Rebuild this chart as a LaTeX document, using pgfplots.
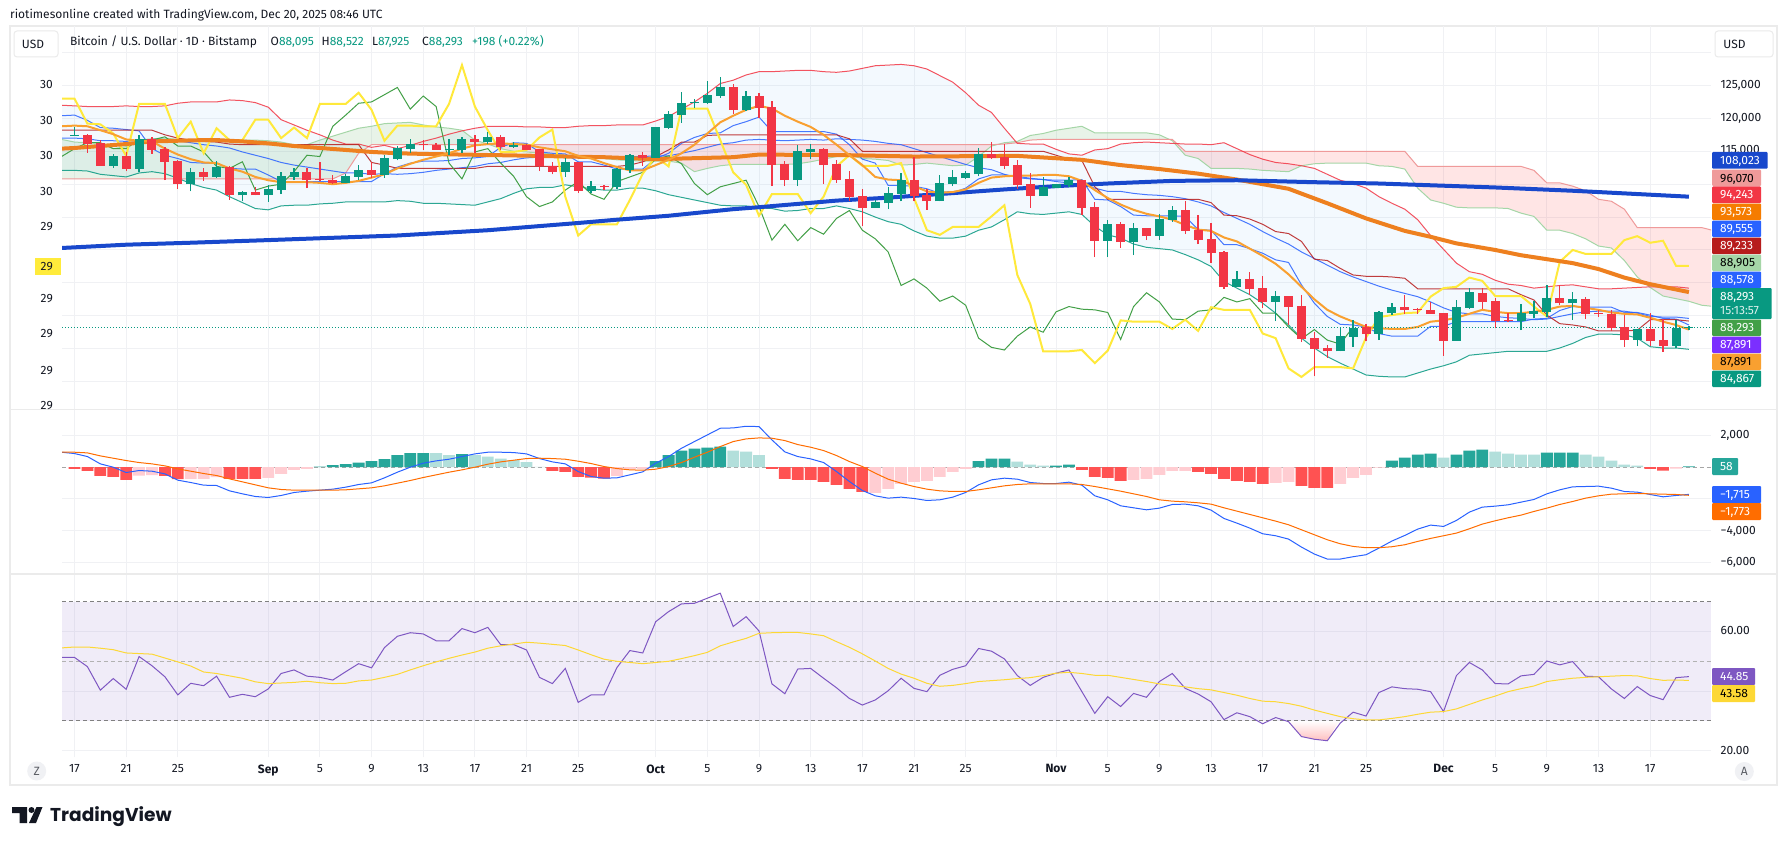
\documentclass[border=0pt]{standalone}
\usepackage{fontspec}
\usepackage{pgfplots}
\usepackage{pgfplotstable}
\pgfplotsset{compat=1.18}
\setmainfont{Fira Sans}
\newfontfamily\logofont{Poppins}

\definecolor{up}{HTML}{089981}
\definecolor{down}{HTML}{F23645}
\definecolor{gridc}{HTML}{F0F1F4}
\definecolor{framec}{HTML}{EBEBEB}
\definecolor{inkc}{HTML}{131722}
\definecolor{tenkan}{HTML}{2962FF}
\definecolor{kijun}{HTML}{B71C1C}
\definecolor{chikou}{HTML}{43A047}
\definecolor{yell}{HTML}{FFE93B}
\definecolor{ema}{HTML}{F9A030}
\definecolor{spana}{HTML}{A5D6A7}
\definecolor{spanb}{HTML}{EF9A9A}
\definecolor{sfifty}{HTML}{EE801F}
\definecolor{stwo}{HTML}{1848CC}
\definecolor{barup}{HTML}{26A69A}
\definecolor{barupl}{HTML}{B2DFDB}
\definecolor{bardn}{HTML}{FF5252}
\definecolor{bardnl}{HTML}{FFCDD2}
\definecolor{rsiline}{HTML}{7E57C2}
\definecolor{rsima}{HTML}{FDD835}
\definecolor{hlc}{HTML}{FFEB3B}
\definecolor{bandc}{HTML}{2196F3}
\definecolor{purp}{HTML}{7B2FFF}
\definecolor{sigc}{HTML}{FF6D00}
\definecolor{sfl}{HTML}{F57C00}

% prices in thousands of USD, x = days since Aug 17
\pgfplotstableread{
i Yl Ch U Lo Ba Te Ki Em A B
-1 123.0 114.2 122.0 112.1 117.0 120.4 118.2 118.8 116.8 110.8
0 123.0 115.4 121.9 112.1 117.0 120.5 118.2 118.9 116.4 110.8
1 119.2 116.3 121.8 112.0 116.9 119.7 118.2 118.8 116.3 110.8
2 119.1 116.3 121.8 111.5 116.6 118.6 118.2 118.2 116.2 110.8
3 117.7 115.4 121.8 111.3 116.6 118.5 118.2 117.6 115.4 110.8
4 114.3 115.4 121.9 111.1 116.5 118.3 118.2 116.8 115.7 110.8
5 122.2 116.8 121.8 111.7 116.7 118.1 118.2 116.6 116.7 110.8
6 122.2 116.7 121.8 111.9 116.8 115.4 118.2 116.5 116.9 110.8
7 122.2 117.2 121.9 111.6 116.8 114.4 117.5 115.4 117.0 110.8
8 117.0 115.8 122.3 110.9 116.6 113.9 117.0 114.5 116.8 110.8
9 119.5 115.8 122.5 110.1 116.3 113.3 116.7 113.8 116.7 110.8
10 114.7 114.9 122.5 109.5 116.0 113.2 116.5 113.3 116.7 110.8
11 118.5 112.7 122.5 109.1 115.8 113.2 116.4 113.2 116.7 110.8
12 116.7 112.4 122.8 108.1 115.5 112.4 116.1 112.4 116.7 110.8
13 116.7 113.4 122.7 107.2 114.9 112.3 116.0 111.9 116.7 110.8
14 119.8 109.1 122.4 106.3 114.4 112.3 116.0 111.1 116.7 110.8
15 119.8 109.7 121.7 106.1 113.9 111.4 116.0 110.6 116.6 110.8
16 117.0 110.0 119.8 106.7 113.3 110.4 116.0 110.3 116.4 110.8
17 118.6 111.9 119.0 106.8 112.9 110.4 116.0 110.3 116.0 110.8
18 117.0 114.4 118.2 106.8 112.6 110.4 116.0 110.3 116.0 110.8
19 122.2 114.2 117.5 107.0 112.3 110.4 116.0 110.2 116.7 110.8
20 122.2 118.8 116.7 107.1 112.0 110.4 116.0 110.0 117.3 110.8
21 122.2 120.5 116.1 107.3 111.7 110.4 116.0 110.2 117.9 111.7
22 123.9 122.3 116.1 107.3 111.7 110.4 116.0 110.5 118.5 114.7
23 121.3 122.5 115.6 107.3 111.5 110.4 113.3 111.0 118.8 116.0
24 116.6 123.6 115.9 107.3 111.6 111.6 112.9 111.5 119.2 116.0
25 118.9 124.7 115.4 107.5 111.5 112.6 112.4 112.4 119.3 116.0
26 118.9 121.4 115.9 107.4 111.6 113.2 112.4 113.1 119.4 116.0
27 118.8 123.4 116.5 107.1 111.8 113.5 112.4 113.7 119.0 116.0
28 118.8 121.8 117.0 107.1 112.1 113.5 112.4 114.2 118.7 116.0
29 122.2 113.2 117.6 107.0 112.3 113.6 112.4 114.7 118.5 116.0
30 128.1 110.8 118.1 106.9 112.5 113.9 112.4 115.4 118.2 116.0
31 121.8 114.9 118.5 106.8 112.7 114.0 112.4 115.9 116.7 116.0
32 118.2 115.4 118.8 107.3 113.1 114.2 112.7 116.1 116.1 116.0
33 114.9 113.2 118.8 107.8 113.3 115.6 112.7 116.2 115.4 116.0
34 114.9 111.2 118.8 108.6 113.7 116.3 112.7 116.1 115.0 116.0
35 115.2 108.1 118.7 109.3 114.0 116.2 112.7 116.0 114.9 116.0
36 117.1 106.6 118.7 109.5 114.1 114.9 112.7 115.6 114.7 116.0
37 118.3 107.3 118.6 109.5 114.1 114.7 112.7 115.3 114.6 116.0
38 108.1 109.1 118.6 109.9 114.3 114.6 112.7 115.0 114.4 116.0
39 102.2 110.4 118.8 109.6 114.2 113.4 112.7 114.3 114.3 116.0
40 103.9 108.5 118.9 109.3 114.1 113.4 112.7 113.9 114.1 116.0
41 103.9 107.7 118.9 109.1 114.0 112.9 112.7 113.2 113.9 116.0
42 103.9 110.4 119.0 109.1 114.1 112.3 112.7 112.6 113.7 116.0
43 107.6 111.1 119.0 109.4 114.2 112.3 112.9 112.1 113.6 116.0
44 111.6 111.8 119.0 109.4 114.2 112.3 113.4 112.1 113.5 116.0
45 114.2 113.8 119.6 109.0 114.3 113.9 114.2 112.9 113.5 116.0
46 112.7 114.3 120.3 108.4 114.3 114.7 115.2 113.7 113.5 116.0
47 121.5 113.1 121.4 108.0 114.7 116.2 116.4 114.7 113.2 116.0
48 121.5 110.1 122.5 107.6 115.1 117.1 116.4 116.0 111.9 116.0
49 121.5 108.4 123.8 107.2 115.6 117.7 117.4 117.7 112.4 116.0
50 116.7 109.6 125.3 106.8 116.1 117.8 117.5 119.4 112.8 116.0
51 111.8 110.1 125.8 106.7 116.3 118.9 117.5 120.4 113.0 116.0
52 109.9 110.6 126.6 106.7 116.7 119.5 117.5 121.3 113.0 116.0
53 105.2 106.6 127.1 106.4 116.8 120.2 117.5 121.9 113.0 116.0
54 108.5 101.5 127.1 106.3 116.7 118.0 117.5 121.5 113.0 116.0
55 108.5 103.9 127.2 105.9 116.6 118.0 117.5 120.4 113.0 116.0
56 108.5 101.4 127.3 106.0 116.7 118.0 117.5 119.5 113.1 116.0
57 105.6 103.4 127.3 106.3 116.8 118.0 117.5 118.7 113.4 116.0
58 108.1 102.4 127.1 106.3 116.7 118.0 117.5 117.5 113.8 116.0
59 112.7 104.8 127.0 106.7 116.9 117.6 117.5 116.0 114.2 116.0
60 114.4 106.0 127.2 106.3 116.8 116.0 116.9 114.4 114.4 116.0
61 112.8 103.0 127.6 105.8 116.7 113.8 115.0 112.9 113.9 116.0
62 112.8 101.7 128.0 105.0 116.5 113.2 115.0 111.1 113.8 116.0
63 112.8 99.7 128.1 104.3 116.2 109.8 115.0 110.7 113.6 116.0
64 113.2 94.6 128.2 103.9 116.0 109.8 115.0 110.6 112.9 116.0
65 107.9 95.6 128.0 102.9 115.4 109.7 115.0 109.7 113.0 116.0
66 103.0 94.2 127.5 102.1 114.8 109.3 115.0 108.9 113.2 116.0
67 102.3 92.2 126.5 101.8 114.2 108.6 115.0 108.7 113.0 116.0
68 103.5 93.0 125.5 101.8 113.6 108.7 115.0 108.8 112.8 116.0
69 103.5 91.6 123.9 102.1 113.0 109.4 115.0 109.2 112.9 116.0
70 103.5 86.6 122.0 103.0 112.5 110.8 115.0 110.2 114.2 116.0
71 105.1 85.2 120.9 103.5 112.2 111.4 115.0 111.0 115.8 116.0
72 106.8 84.8 118.5 104.6 111.5 111.4 115.0 111.2 116.3 116.1
73 96.2 86.9 116.2 105.8 111.0 111.2 115.0 111.3 116.5 116.3
74 91.8 88.3 116.1 105.5 110.8 110.9 115.0 111.3 117.4 116.7
75 84.6 87.5 116.1 105.4 110.7 110.7 115.0 111.4 117.7 116.8
76 84.6 90.6 115.3 105.6 110.4 110.6 114.4 111.4 118.2 116.8
77 84.6 91.4 114.6 105.8 110.2 110.6 113.8 111.2 118.5 116.8
78 84.8 91.0 114.4 105.4 109.9 110.7 113.6 110.5 118.8 116.8
79 82.8 90.9 115.2 103.6 109.4 107.7 109.6 109.1 117.8 116.8
80 84.7 90.5 115.4 102.3 108.9 107.6 107.7 107.9 117.8 116.8
81 89.3 86.4 116.1 101.8 108.9 106.6 107.7 106.9 117.8 116.8
82 89.1 91.4 116.3 100.9 108.6 105.3 107.7 106.1 117.8 116.8
83 89.1 93.5 116.4 100.4 108.4 105.2 107.7 105.5 117.8 116.8
84 89.1 92.1 116.3 100.2 108.3 105.2 107.7 105.1 117.5 116.8
85 88.0 89.5 116.2 100.0 108.1 105.2 107.7 104.6 116.6 116.8
86 89.4 89.4 116.1 99.3 107.8 105.1 107.7 103.8 114.4 115.0
87 87.7 90.7 116.1 98.5 107.3 103.1 107.7 103.1 113.9 115.0
88 91.3 90.9 116.0 97.5 106.7 103.0 107.2 102.9 112.4 115.0
89 90.9 92.8 116.3 95.2 105.7 100.8 105.3 101.9 112.4 115.0
90 90.9 92.1 115.4 94.2 104.8 100.8 105.2 101.3 112.4 115.0
91 90.9 92.6 114.5 93.2 103.9 100.2 104.7 100.2 112.3 115.0
92 87.3 90.4 113.8 91.9 102.8 99.5 103.9 99.1 112.1 115.0
93 86.6 90.4 113.3 90.4 101.8 98.5 102.8 97.9 112.0 115.0
94 82.0 88.3 113.1 88.6 100.9 98.1 102.5 96.3 111.9 115.0
95 80.7 86.5 112.8 86.6 99.7 94.7 101.3 94.4 112.8 115.0
96 82.2 87.9 112.4 85.1 98.7 91.9 98.6 92.5 113.1 115.0
97 82.2 86.3 111.5 83.8 97.7 89.9 98.4 90.9 113.2 115.0
98 82.2 85.7 110.6 82.8 96.7 88.7 97.2 89.9 113.2 115.0
99 82.0 88.3 110.1 81.9 95.9 88.6 96.2 89.1 113.2 115.0
100 86.7 nan 109.4 81.0 95.2 88.3 96.0 88.3 113.2 115.0
101 89.8 nan 108.1 80.8 94.5 87.3 96.0 88.1 112.8 115.0
102 90.1 nan 107.1 80.7 93.9 86.9 95.9 88.0 112.7 115.0
103 90.4 nan 106.2 80.7 93.4 86.9 95.7 88.0 112.3 115.0
104 90.5 nan 104.6 81.3 92.9 86.9 94.1 88.3 109.4 112.7
105 92.9 nan 102.2 81.9 92.1 88.4 94.1 89.1 107.6 112.7
106 94.2 nan 100.1 82.4 91.2 88.4 94.1 89.3 107.1 112.7
107 94.4 nan 98.0 83.0 90.5 89.1 94.1 89.7 106.5 112.7
108 95.8 nan 96.7 84.0 90.3 89.1 94.1 90.3 106.4 112.7
109 95.3 nan 96.3 84.2 90.3 89.1 94.1 90.9 106.4 112.7
110 93.0 nan 95.4 84.4 89.9 89.1 94.1 90.6 106.4 112.7
111 93.0 nan 94.8 84.6 89.7 89.1 94.1 90.4 106.3 112.7
112 93.0 nan 94.6 84.6 89.6 89.1 93.2 90.4 105.6 112.7
113 91.4 nan 94.2 84.6 89.4 89.5 92.4 90.6 105.1 112.1
114 89.9 nan 94.4 84.6 89.5 89.6 90.1 90.9 103.0 110.2
115 98.2 nan 94.6 85.1 89.9 90.8 88.8 91.4 103.0 110.2
116 100.0 nan 94.7 85.8 90.3 91.4 88.6 91.5 102.5 109.7
117 99.4 nan 94.4 86.7 90.6 91.3 88.3 91.2 101.7 109.0
118 99.4 nan 94.1 87.2 90.7 91.3 87.7 90.9 100.6 107.7
119 99.4 nan 94.1 87.2 90.7 91.3 87.7 90.5 100.3 107.4
120 101.5 nan 94.2 87.1 90.7 90.5 87.7 90.3 98.4 106.2
121 102.1 nan 94.3 86.6 90.4 90.5 87.8 90.2 95.9 103.4
122 101.1 nan 94.4 85.3 89.9 90.1 89.4 89.7 94.3 103.4
123 101.4 nan 94.4 85.1 89.8 89.6 89.4 89.1 93.0 103.4
124 97.6 nan 94.4 85.1 89.8 89.5 89.4 88.6 92.6 103.4
125 97.6 nan 94.2 84.9 89.6 88.6 89.2 87.9 92.2 103.4
126 nan nan nan nan nan nan nan nan 91.6 103.4
127 nan nan nan nan nan nan nan nan 91.4 102.9
}\main

% candles: i, body low, body high, low, high
\pgfplotstableread{
i bl bh l h
0 117.4 117.5 117.4 118.7
3 112.8 114.3 112.5 114.6
5 112.3 116.9 111.8 117.5
9 110.0 111.9 108.9 112.4
11 111.1 112.6 111.0 113.5
13 108.3 108.8 107.4 109.0
15 108.3 109.3 107.3 109.9
16 109.1 111.2 108.5 111.9
17 111.1 111.9 110.6 112.5
21 110.2 111.2 110.2 111.6
22 111.1 112.1 110.6 112.9
24 111.4 114.0 111.0 114.4
25 113.8 115.5 113.6 115.8
26 115.4 116.1 114.8 116.9
29 115.2 115.4 114.4 116.9
30 115.2 116.9 114.8 117.1
32 116.4 117.2 116.1 117.9
34 115.7 115.9 115.5 116.4
38 111.9 113.4 111.1 114.0
40 109.0 109.7 108.7 110.5
42 109.6 112.3 109.3 112.5
43 112.2 114.4 111.7 114.6
45 114.0 118.7 114.0 118.7
46 118.5 120.7 118.4 121.1
47 120.5 122.3 119.3 124.0
48 122.3 122.5 121.6 123.0
49 122.3 123.6 122.2 125.7
50 123.4 124.8 123.1 126.3
52 121.3 123.4 121.1 124.2
56 110.6 115.0 109.7 116.0
57 114.9 115.4 113.8 116.1
62 106.4 107.3 106.4 107.6
63 107.1 108.7 106.2 109.6
64 108.5 110.6 107.4 111.7
67 107.4 110.2 107.4 111.4
68 110.0 111.1 109.7 112.2
69 110.9 111.7 110.8 112.0
70 111.5 114.6 111.2 115.5
75 108.2 109.6 108.2 111.1
76 109.4 110.0 109.4 110.0
77 109.9 110.6 109.6 111.1
80 101.4 104.0 98.9 104.6
82 101.2 103.3 99.2 104.1
84 102.1 104.7 101.5 105.5
85 104.6 106.1 104.3 106.7
90 94.4 95.6 94.4 96.8
93 92.1 93.0 89.2 93.8
98 84.6 86.9 84.6 88.1
99 86.8 88.2 85.3 89.4
101 87.2 90.6 86.3 90.7
102 90.4 91.3 90.1 91.9
107 86.2 91.3 86.2 92.4
108 91.2 93.6 91.0 94.2
112 89.2 90.4 87.8 91.8
113 90.3 90.7 89.7 92.2
114 90.6 92.7 89.8 94.7
116 91.9 92.6 89.4 93.6
121 86.3 88.0 85.4 88.0
124 85.4 88.1 85.1 89.4
125 88.1 88.3 87.9 88.5
}\upbars
\pgfplotstableread{
i bl bh l h
1 116.1 117.5 114.8 117.6
2 112.8 116.2 112.8 116.7
4 112.3 114.3 112.0 114.9
6 115.2 116.9 114.6 117.1
7 113.4 115.4 110.6 115.7
8 110.0 113.5 109.3 113.7
10 111.1 111.9 110.5 112.5
12 108.3 112.6 107.6 112.8
14 108.3 108.8 108.3 109.5
18 110.6 111.9 109.4 112.4
19 110.6 110.8 110.5 113.4
20 110.2 110.6 110.0 111.4
23 111.4 112.2 110.9 113.4
27 115.9 116.1 115.2 116.7
28 115.2 116.0 115.2 116.3
31 116.4 116.9 114.8 117.4
33 115.6 117.2 115.2 117.5
35 115.2 115.9 115.2 116.1
36 112.7 115.4 112.0 115.4
37 111.9 112.7 111.5 113.4
39 109.0 113.4 108.7 113.4
41 109.5 109.7 109.1 109.9
44 114.0 114.4 112.8 114.9
51 121.3 124.8 120.7 125.2
53 121.6 123.4 120.1 123.9
54 112.9 121.7 109.7 122.6
55 110.6 113.1 109.7 113.5
58 112.9 115.4 110.0 115.5
59 110.6 113.1 110.2 113.7
60 108.1 110.8 107.4 112.0
61 106.4 108.2 103.6 109.3
65 108.2 110.6 107.4 114.1
66 107.4 108.4 106.1 109.3
71 114.0 114.6 113.8 116.4
72 112.8 114.1 112.3 116.1
73 109.9 112.9 109.3 113.7
74 108.2 110.0 106.4 111.7
78 106.4 110.6 105.3 110.6
79 101.4 106.5 98.9 107.3
81 101.2 104.0 100.3 104.3
83 102.1 103.3 101.5 103.3
86 102.9 106.1 102.4 107.4
87 101.5 103.0 100.9 105.3
88 99.5 101.7 98.0 104.1
89 94.4 99.7 94.1 99.8
91 94.1 95.6 93.2 96.6
92 92.1 94.2 91.2 96.0
94 91.3 93.0 88.6 93.0
95 86.5 91.5 86.0 93.2
96 85.0 86.6 80.8 87.5
97 84.6 85.1 83.6 85.6
100 87.2 88.3 86.2 88.8
103 90.9 91.3 90.3 93.2
104 90.9 91.1 90.3 91.2
105 90.3 90.9 90.3 92.1
106 86.2 90.4 83.9 90.4
109 92.1 93.5 91.0 94.2
110 89.2 92.2 88.1 92.7
111 89.2 89.4 89.1 90.4
115 91.9 92.7 91.6 94.7
117 90.3 92.6 89.5 92.9
118 90.2 90.4 89.8 90.9
119 88.1 90.3 87.7 90.9
120 86.3 88.3 85.3 90.1
122 86.2 88.0 85.4 90.4
123 85.4 86.3 84.5 89.5
}\downbars

\pgfplotstableread{
i macd sig
-1 945 945
0 861 945
1 672 903
2 210 714
3 0 567
4 -336 420
5 -210 294
6 -252 210
7 -420 84
8 -819 -105
9 -966 -252
10 -1134 -399
11 -1155 -525
12 -1491 -735
13 -1680 -924
14 -1848 -1113
15 -1911 -1302
16 -1785 -1407
17 -1596 -1449
18 -1512 -1449
19 -1449 -1449
20 -1386 -1449
21 -1260 -1428
22 -1092 -1365
23 -987 -1302
24 -672 -1176
25 -315 -1008
26 0 -840
27 252 -651
28 399 -483
29 504 -315
30 672 -168
31 840 0
32 945 189
33 945 336
34 924 441
35 840 546
36 546 567
37 336 546
38 210 504
39 -273 378
40 -588 231
41 -693 42
42 -672 -84
43 -483 -168
44 -294 -189
45 252 -126
46 672 42
47 1197 294
48 1617 630
49 2037 945
50 2457 1302
51 2478 1617
52 2583 1785
53 2562 1848
54 1722 1827
55 966 1680
56 672 1428
57 525 1260
58 294 1050
59 -273 735
60 -903 357
61 -1470 42
62 -1806 -378
63 -1953 -756
64 -1890 -1008
65 -1974 -1218
66 -2100 -1386
67 -2058 -1491
68 -1890 -1533
69 -1596 -1533
70 -1113 -1428
71 -798 -1302
72 -693 -1176
73 -756 -1092
74 -966 -1050
75 -1029 -1050
76 -1029 -1050
77 -945 -1050
78 -1134 -1092
79 -1806 -1218
80 -2058 -1365
81 -2436 -1512
82 -2562 -1680
83 -2688 -1848
84 -2583 -2058
85 -2352 -2142
86 -2331 -2184
87 -2436 -2247
88 -2709 -2331
89 -3234 -2562
90 -3528 -2772
91 -3843 -2982
92 -4200 -3192
93 -4326 -3402
94 -4536 -3633
95 -5040 -3948
96 -5481 -4263
97 -5796 -4578
98 -5796 -4830
99 -5649 -4998
100 -5523 -5082
101 -5103 -5082
102 -4662 -5019
103 -4305 -4893
104 -3906 -4683
105 -3654 -4494
106 -3738 -4326
107 -3360 -4158
108 -2835 -3885
109 -2520 -3591
110 -2457 -3381
111 -2373 -3192
112 -2205 -3024
113 -2037 -2793
114 -1680 -2583
115 -1428 -2352
116 -1239 -2163
117 -1218 -1953
118 -1197 -1806
119 -1323 -1701
120 -1533 -1680
121 -1575 -1659
122 -1722 -1680
123 -1869 -1701
124 -1785 -1722
125 -1715 -1773
}\macdtab

\pgfplotstableread{
i rsi ma
-1 51.3 54.5
0 51.3 54.8
1 48.2 54.8
2 40.3 54.4
3 44.2 53.9
4 40.6 52.8
5 51.6 52.6
6 48.5 52.4
7 44.8 51.1
8 38.7 49.8
9 42.6 48.4
10 41.8 46.4
11 45.0 45.9
12 37.9 45.1
13 38.9 44.3
14 38.1 43.1
15 40.7 42.5
16 45.9 42.7
17 47.1 42.9
18 45.0 43.3
19 44.6 42.8
20 43.7 42.5
21 46.5 42.6
22 49.2 43.4
23 47.8 43.7
24 54.6 44.6
25 58.4 45.6
26 59.6 47.1
27 59.2 48.5
28 56.9 49.8
29 56.9 51.0
30 61.0 52.1
31 59.6 53.1
32 61.4 54.4
33 55.6 55.2
34 55.6 55.8
35 53.8 56.4
36 44.6 56.1
37 42.5 55.7
38 47.6 55.3
39 36.2 53.8
40 38.7 52.2
41 38.7 50.7
42 47.9 50.0
43 53.6 49.6
44 52.8 49.2
45 63.3 49.6
46 66.7 50.0
47 69.3 50.9
48 69.5 51.9
49 71.2 53.0
50 72.9 55.2
51 61.7 56.5
52 65.0 57.7
53 60.2 59.4
54 42.4 59.6
55 39.1 59.7
56 47.4 59.7
57 47.6 59.2
58 44.3 58.6
59 41.1 56.6
60 37.5 54.7
61 35.3 52.5
62 37.0 50.1
63 40.1 47.6
64 44.3 45.7
65 40.9 44.3
66 39.8 42.6
67 45.3 41.6
68 47.3 41.9
69 48.5 42.5
70 54.3 43.2
71 53.4 43.5
72 50.8 43.8
73 45.2 44.2
74 41.9 44.5
75 44.6 45.2
76 46.0 46.0
77 47.1 46.3
78 39.8 45.9
79 32.5 45.3
80 38.1 45.3
81 34.8 44.6
82 39.2 43.9
83 37.9 43.2
84 43.2 42.4
85 45.9 41.9
86 40.9 41.4
87 39.0 40.8
88 36.4 40.4
89 30.4 39.5
90 32.7 38.6
91 31.4 37.5
92 29.0 36.6
93 31.1 36.4
94 29.7 35.8
95 24.7 34.9
96 23.8 33.6
97 23.3 32.5
98 29.2 31.4
99 32.9 30.7
100 31.6 30.3
101 39.5 30.3
102 41.4 30.8
103 40.8 31.4
104 40.6 32.2
105 39.8 32.9
106 33.1 33.1
107 45.2 34.0
108 49.6 35.5
109 47.1 37.0
110 42.5 38.3
111 42.4 39.8
112 45.1 40.8
113 45.6 41.7
114 50.1 43.2
115 48.8 43.8
116 49.9 44.3
117 45.0 44.6
118 44.8 44.8
119 40.7 45.0
120 37.5 45.2
121 41.5 45.1
122 38.5 44.2
123 37.1 43.6
124 44.5 43.7
125 44.85 43.58
}\rsitab

\newcommand{\px}{\fontsize{12}{14}\selectfont}
\newcommand{\pill}[7]{%
  \fill[#5,rounded corners=1pt] (#1pt,-#2pt) rectangle (#3pt,-#4pt);
  \node[anchor=base west,inner sep=0,text=#6,font=\px] at (#1pt+8pt,-#2pt/2-#4pt/2-4.2pt) {#7};}
\newcommand{\leftlab}[2]{\node[anchor=base east,inner sep=0,text=inkc,font=\px] at (53pt,-#1pt-4pt) {#2};}
\newcommand{\ticklab}[2]{\node[anchor=base west,inner sep=0,text=inkc,font=\px] at (1720.5pt,-#1pt-4pt) {#2};}

\pgfplotsset{panel/.style={
  scale only axis, width=1649pt, xmin=-0.968, xmax=126.71,
  axis line style={draw=none}, tick style={draw=none}, major tick length=0pt,
  xtick={0,4,8,15,19,23,27,31,35,39,45,49,53,57,61,65,69,76,80,84,88,92,96,100,106,110,114,118,122},
  xticklabels={}, yticklabels={},
  grid=major, grid style={draw=gridc,line width=1pt}}}

\begin{document}
\begin{tikzpicture}
\useasboundingbox (0,0) rectangle (1787pt,-845pt);
\fill[white] (0,0) rectangle (1787pt,-845pt);
\draw[framec,line width=2pt] (10pt,-26pt) rectangle (1777pt,-785pt);

% price pane
\begin{axis}[panel, at={(62pt,-26pt)}, anchor=north west, height=383pt,
  ymin=75.83, ymax=134.04, ytick={80,85,...,130}]
% Bollinger band area: upper edge forward, lower edge back
\addplot[fill=bandc,fill opacity=.05,draw=none] coordinates {(-1,122.0)(0,121.9)(1,121.8)(2,121.8)(3,121.8)(4,121.9)(5,121.8)(6,121.8)(7,121.9)(8,122.3)(9,122.5)(10,122.5)(11,122.5)(12,122.8)(13,122.7)(14,122.4)(15,121.7)(16,119.8)(17,119.0)(18,118.2)(19,117.5)(20,116.7)(21,116.1)(22,116.1)(23,115.6)(24,115.9)(25,115.4)(26,115.9)(27,116.5)(28,117.0)(29,117.6)(30,118.1)(31,118.5)(32,118.8)(33,118.8)(34,118.8)(35,118.7)(36,118.7)(37,118.6)(38,118.6)(39,118.8)(40,118.9)(41,118.9)(42,119.0)(43,119.0)(44,119.0)(45,119.6)(46,120.3)(47,121.4)(48,122.5)(49,123.8)(50,125.3)(51,125.8)(52,126.6)(53,127.1)(54,127.1)(55,127.2)(56,127.3)(57,127.3)(58,127.1)(59,127.0)(60,127.2)(61,127.6)(62,128.0)(63,128.1)(64,128.2)(65,128.0)(66,127.5)(67,126.5)(68,125.5)(69,123.9)(70,122.0)(71,120.9)(72,118.5)(73,116.2)(74,116.1)(75,116.1)(76,115.3)(77,114.6)(78,114.4)(79,115.2)(80,115.4)(81,116.1)(82,116.3)(83,116.4)(84,116.3)(85,116.2)(86,116.1)(87,116.1)(88,116.0)(89,116.3)(90,115.4)(91,114.5)(92,113.8)(93,113.3)(94,113.1)(95,112.8)(96,112.4)(97,111.5)(98,110.6)(99,110.1)(100,109.4)(101,108.1)(102,107.1)(103,106.2)(104,104.6)(105,102.2)(106,100.1)(107,98.0)(108,96.7)(109,96.3)(110,95.4)(111,94.8)(112,94.6)(113,94.2)(114,94.4)(115,94.6)(116,94.7)(117,94.4)(118,94.1)(119,94.1)(120,94.2)(121,94.3)(122,94.4)(123,94.4)(124,94.4)(125,94.2)
(125,84.9)(124,85.1)(123,85.1)(122,85.3)(121,86.6)(120,87.1)(119,87.2)(118,87.2)(117,86.7)(116,85.8)(115,85.1)(114,84.6)(113,84.6)(112,84.6)(111,84.6)(110,84.4)(109,84.2)(108,84.0)(107,83.0)(106,82.4)(105,81.9)(104,81.3)(103,80.7)(102,80.7)(101,80.8)(100,81.0)(99,81.9)(98,82.8)(97,83.8)(96,85.1)(95,86.6)(94,88.6)(93,90.4)(92,91.9)(91,93.2)(90,94.2)(89,95.2)(88,97.5)(87,98.5)(86,99.3)(85,100.0)(84,100.2)(83,100.4)(82,100.9)(81,101.8)(80,102.3)(79,103.6)(78,105.4)(77,105.8)(76,105.6)(75,105.4)(74,105.5)(73,105.8)(72,104.6)(71,103.5)(70,103.0)(69,102.1)(68,101.8)(67,101.8)(66,102.1)(65,102.9)(64,103.9)(63,104.3)(62,105.0)(61,105.8)(60,106.3)(59,106.7)(58,106.3)(57,106.3)(56,106.0)(55,105.9)(54,106.3)(53,106.4)(52,106.7)(51,106.7)(50,106.8)(49,107.2)(48,107.6)(47,108.0)(46,108.4)(45,109.0)(44,109.4)(43,109.4)(42,109.1)(41,109.1)(40,109.3)(39,109.6)(38,109.9)(37,109.5)(36,109.5)(35,109.3)(34,108.6)(33,107.8)(32,107.3)(31,106.8)(30,106.9)(29,107.0)(28,107.1)(27,107.1)(26,107.4)(25,107.5)(24,107.3)(23,107.3)(22,107.3)(21,107.3)(20,107.1)(19,107.0)(18,106.8)(17,106.8)(16,106.7)(15,106.1)(14,106.3)(13,107.2)(12,108.1)(11,109.1)(10,109.5)(9,110.1)(8,110.9)(7,111.6)(6,111.9)(5,111.7)(4,111.1)(3,111.3)(2,111.5)(1,112.0)(0,112.1)(-1,112.1)};
% cloud: span A against span B, green while A is on top
\addplot[fill=chikou,fill opacity=.12,draw=none] coordinates {(-1,116.8)(0,116.4)(1,116.3)(2,116.2)(3,115.4)(4,115.7)(5,116.7)(6,116.9)(7,117.0)(8,116.8)(9,116.7)(10,116.7)(11,116.7)(12,116.7)(13,116.7)(14,116.7)(15,116.6)(16,116.4)(17,116.0)(18,116.0)(19,116.7)(20,117.3)(21,117.9)(22,118.5)(23,118.8)(24,119.2)(25,119.3)(26,119.4)(27,119.0)(28,118.7)(29,118.5)(30,118.2)(31,116.7)(32,116.1)(32.2,116.0)(23,116.0)(22,114.7)(21,111.7)(20,110.8)(-1,110.8)};
\addplot[fill=red,fill opacity=.1,draw=none] coordinates {(32.2,116.0)(33,115.4)(34,115.0)(35,114.9)(36,114.7)(37,114.6)(38,114.4)(39,114.3)(40,114.1)(41,113.9)(42,113.7)(43,113.6)(44,113.5)(46,113.5)(47,113.2)(48,111.9)(49,112.4)(50,112.8)(51,113.0)(55,113.0)(56,113.1)(57,113.4)(58,113.8)(59,114.2)(60,114.4)(61,113.9)(62,113.8)(63,113.6)(64,112.9)(65,113.0)(66,113.2)(67,113.0)(68,112.8)(69,112.9)(70,114.2)(71,115.8)(71.3,116.0)};
\addplot[fill=chikou,fill opacity=.12,draw=none] coordinates {(71.3,116.0)(72,116.3)(73,116.5)(74,117.4)(75,117.7)(76,118.2)(77,118.5)(78,118.8)(79,117.8)(83,117.8)(84,117.5)(84.78,116.8)(75,116.8)(74,116.7)(73,116.3)(72,116.1)};
\addplot[fill=red,fill opacity=.1,draw=none] coordinates {(84.78,116.8)(85,116.6)(86,114.4)(87,113.9)(88,112.4)(90,112.4)(91,112.3)(92,112.1)(93,112.0)(94,111.9)(95,112.8)(96,113.1)(97,113.2)(100,113.2)(101,112.8)(102,112.7)(103,112.3)(104,109.4)(105,107.6)(106,107.1)(107,106.5)(108,106.4)(110,106.4)(111,106.3)(112,105.6)(113,105.1)(114,103.0)(115,103.0)(116,102.5)(117,101.7)(118,100.6)(119,100.3)(120,98.4)(121,95.9)(122,94.3)(123,93.0)(124,92.6)(125,92.2)(126,91.6)(127,91.4)(127,102.9)(126,103.4)(121,103.4)(120,106.2)(119,107.4)(118,107.7)(117,109.0)(116,109.7)(115,110.2)(114,110.2)(113,112.1)(112,112.7)(104,112.7)(103,115.0)(86,115.0)(85,116.8)};
\addplot[spana,line width=1pt] table[x=i,y=A]{\main};
\addplot[spanb,line width=1pt] table[x=i,y=B]{\main};
\addplot[down,line width=1pt,opacity=.85] table[x=i,y=U]{\main};
\addplot[up,line width=1pt,opacity=.85] table[x=i,y=Lo]{\main};
\addplot[tenkan,line width=1pt,opacity=.85] table[x=i,y=Ba]{\main};
\addplot[tenkan,line width=1pt,opacity=.85] table[x=i,y=Te]{\main};
\addplot[kijun,line width=1pt,opacity=.85] table[x=i,y=Ki]{\main};
\addplot[chikou,line width=1pt] table[x=i,y=Ch]{\main};
\addplot[yell,line width=2pt] table[x=i,y=Yl]{\main};
\addplot[sfifty,line width=4pt] coordinates {(-1,115.4)(0,115.5)(2,115.8)(4,116.1)(6,116.5)(8,116.6)(10,116.7)(11,116.7)(13,116.5)(15,116.2)(17,115.8)(19,115.5)(21,115.2)(23,114.9)(25,114.7)(27,114.6)(30,114.5)(33,114.4)(36,114.3)(38,114.2)(41,114.1)(45,113.8)(47,113.9)(51,114.1)(53,114.5)(60,114.4)(65,114.2)(73,114.3)(78,113.7)(81,112.9)(84,112.3)(87,111.6)(90,110.7)(94,109.3)(97,107.1)(100,104.8)(103,102.9)(105,102.0)(107,101.0)(110,100.0)(112,99.2)(114,98.6)(116,98.0)(118,97.1)(120,95.8)(122,94.8)(125,93.6)};
\addplot[stwo,line width=4pt] coordinates {(-1,100.3)(4,100.8)(9,101.1)(15,101.5)(25,102.2)(32,103.0)(39,104.1)(42,104.6)(46,105.2)(51,106.2)(53,106.5)(59,107.5)(63,107.95)(67,108.5)(72,109.2)(76,109.7)(80,110.1)(85,110.5)(90,110.6)(96,110.3)(101,110.1)(110,109.5)(116,109.0)(125,108.1)};
\addplot[ema,line width=2pt] table[x=i,y=Em]{\main};
\addplot[up,line width=.8pt,dash pattern=on 1pt off 2pt] coordinates {(-0.97,88.293)(126.71,88.293)};
% wicks then bodies
\addplot[draw=none,mark=none,error bars/.cd,y dir=plus,y explicit,error mark=none,
  error bar style={draw=up,line width=1.3pt}] table[x=i,y=l,y error plus expr=\thisrow{h}-\thisrow{l}]{\upbars};
\addplot[draw=none,mark=none,error bars/.cd,y dir=plus,y explicit,error mark=none,
  error bar style={draw=down,line width=1.3pt}] table[x=i,y=l,y error plus expr=\thisrow{h}-\thisrow{l}]{\downbars};
\addplot[draw=none,mark=none,error bars/.cd,y dir=plus,y explicit,error mark=none,
  error bar style={draw=up,line width=9pt}] table[x=i,y=bl,y error plus expr=\thisrow{bh}-\thisrow{bl}]{\upbars};
\addplot[draw=none,mark=none,error bars/.cd,y dir=plus,y explicit,error mark=none,
  error bar style={draw=down,line width=9pt}] table[x=i,y=bl,y error plus expr=\thisrow{bh}-\thisrow{bl}]{\downbars};
\end{axis}

% MACD pane
\begin{axis}[panel, at={(62pt,-410pt)}, anchor=north west, height=164pt,
  ymin=-6739, ymax=3609, ytick={-6000,-4000,-2000,2000}]
\addplot[gray!70,line width=1pt,dash pattern=on 4pt off 3pt] coordinates {(-0.97,0)(126.71,0)};
\addplot[ybar,bar width=11.8pt,bar shift=0pt,fill=barup,draw=none] coordinates {(19,42)(20,126)(21,189)(22,294)(23,378)(24,504)(25,756)(26,882)(27,882)(30,819)(45,378)(46,756)(47,1050)(48,1176)(49,1239)(50,1302)(70,378)(71,546)(72,546)(76,105)(77,168)(102,420)(103,609)(104,798)(105,861)(107,798)(108,1050)(109,1113)(114,924)(115,924)(116,924)(125,58)};
\addplot[ybar,bar width=11.8pt,bar shift=0pt,fill=barupl,draw=none] coordinates {(28,882)(29,756)(31,756)(32,672)(33,546)(34,441)(35,315)(36,21)(51,1050)(52,987)(53,756)(73,357)(74,168)(75,105)(106,609)(110,987)(111,861)(112,798)(113,798)(117,798)(118,672)(119,420)(120,168)(121,105)};
\addplot[ybar,bar width=11.8pt,bar shift=0pt,fill=bardn,draw=none] coordinates {(0,-105)(1,-231)(2,-546)(3,-609)(4,-798)(7,-546)(8,-756)(12,-735)(13,-735)(14,-735)(37,-231)(38,-294)(39,-609)(40,-651)(41,-714)(54,-105)(55,-735)(56,-798)(57,-798)(58,-924)(59,-1113)(60,-1365)(61,-1554)(78,-168)(79,-609)(80,-672)(81,-861)(87,-294)(88,-420)(89,-735)(90,-861)(91,-924)(92,-1050)(95,-1176)(96,-1302)(97,-1302)(122,-105)(123,-210)};
\addplot[ybar,bar width=11.8pt,bar shift=0pt,fill=bardnl,draw=none] coordinates {(5,-525)(6,-504)(9,-735)(10,-735)(11,-630)(15,-672)(16,-420)(17,-168)(18,-105)(42,-546)(43,-126)(44,-105)(62,-1617)(63,-1365)(64,-1050)(65,-924)(66,-861)(67,-609)(68,-294)(69,-105)(82,-798)(83,-735)(84,-483)(85,-231)(86,-231)(93,-987)(94,-924)(98,-1050)(99,-672)(100,-483)(101,-21)(124,-84)};
\addplot[tenkan,line width=1pt] table[x=i,y=macd]{\macdtab};
\addplot[sigc,line width=1pt] table[x=i,y=sig]{\macdtab};
\end{axis}

% RSI pane
\begin{axis}[panel, at={(62pt,-575pt)}, anchor=north west, height=182pt,
  ymin=17.83, ymax=79.0, ytick={20,40,60},
  xticklabels={17,21,25,\textbf{Sep},5,9,13,17,21,25,\textbf{Oct},5,9,13,17,21,25,\textbf{Nov},5,9,13,17,21,25,\textbf{Dec},5,9,13,17},
  xticklabel style={font=\px,text=inkc}, xticklabel shift=4pt]
\addplot[fill=rsiline,fill opacity=.11,draw=none] coordinates {(-0.97,30)(126.71,30)(126.71,70)(-0.97,70)};
\addplot[top color=white,bottom color=red!25,draw=none] coordinates {(94.05,30)(95,24.7)(96,23.8)(97,23.3)(97.9,30)};
\addplot[gray,line width=1pt,dash pattern=on 4pt off 3pt] coordinates {(-0.97,70)(126.71,70)};
\addplot[gray!60,line width=1pt,dash pattern=on 4pt off 3pt] coordinates {(-0.97,50)(126.71,50)};
\addplot[gray,line width=1pt,dash pattern=on 4pt off 3pt] coordinates {(-0.97,30)(126.71,30)};
\addplot[rsiline,line width=1pt] table[x=i,y=rsi]{\rsitab};
\addplot[rsima,line width=1pt] table[x=i,y=ma]{\rsitab};
\end{axis}

\draw[framec,line width=1.5pt] (10pt,-409.5pt) -- (1777pt,-409.5pt);
\draw[framec,line width=1.5pt] (10pt,-574pt) -- (1777pt,-574pt);

% header
\node[anchor=base west,inner sep=0,text=inkc,font=\px] at (10pt,-19pt) {riotimesonline created with TradingView.com, Dec 20, 2025 08:46 UTC};
\node[anchor=base west,inner sep=0,text=inkc,font=\px] at (70pt,-46pt) {Bitcoin / U.S. Dollar · 1D · Bitstamp};
\node[anchor=base west,inner sep=0,text=inkc,font=\px] at (270.5pt,-46pt) {O\textcolor{up}{88,095}};
\node[anchor=base west,inner sep=0,text=inkc,font=\px] at (321.5pt,-46pt) {H\textcolor{up}{88,522}};
\node[anchor=base west,inner sep=0,text=inkc,font=\px] at (372pt,-46pt) {L\textcolor{up}{87,925}};
\node[anchor=base west,inner sep=0,text=inkc,font=\px] at (422pt,-46pt) {C\textcolor{up}{88,293}};
\node[anchor=base west,inner sep=0,text=up,font=\px] at (472pt,-46pt) {+198 (+0.22\%)};

% currency buttons
\draw[framec,fill=white,line width=1pt,rounded corners=3pt] (14pt,-31pt) rectangle (58pt,-57pt);
\node[inner sep=0,text=inkc,font=\px] at (33pt,-44.5pt) {USD};
\draw[framec,fill=white,line width=1pt,rounded corners=3pt] (1715pt,-31pt) rectangle (1773pt,-57pt);
\node[inner sep=0,text=inkc,font=\px] at (1734.5pt,-44.5pt) {USD};

% left scale
\leftlab{85}{30}\leftlab{121}{30}\leftlab{155.7}{30}\leftlab{191.3}{30}\leftlab{226.7}{29}
\fill[hlc] (35pt,-258pt) rectangle (61pt,-275pt);
\leftlab{266.3}{29}\leftlab{298}{29}\leftlab{333.7}{29}\leftlab{370}{29}\leftlab{405}{29}

% right scales
\ticklab{84.7}{125,000}\ticklab{118}{120,000}\ticklab{150}{115,000}
\ticklab{434.5}{2,000}\ticklab{530.6}{−4,000}\ticklab{561}{−6,000}
\ticklab{630.6}{60.00}\ticklab{750.6}{20.00}

\pill{1712}{152}{1767.7}{168.7}{stwo}{white}{108,023}
\pill{1712}{169.7}{1761}{186}{spanb}{black}{96,070}
\pill{1712}{186.5}{1761}{203}{down}{white}{94,243}
\pill{1712}{203.5}{1761}{220}{sfl}{white}{93,573}
\pill{1712}{220.5}{1761}{237}{tenkan}{white}{89,555}
\pill{1712}{237.5}{1761}{254}{kijun}{white}{89,233}
\pill{1712}{254.5}{1761}{271}{spana}{black}{88,905}
\pill{1712}{271.5}{1761}{288}{tenkan}{white}{88,578}
\fill[up,rounded corners=1pt] (1712pt,-288pt) rectangle (1771.7pt,-319pt);
\node[anchor=base west,inner sep=0,text=white,font=\px] at (1720pt,-300pt) {88,293};
\node[anchor=base west,inner sep=0,text=white!85!up,font=\px] at (1720pt,-314pt) {15:13:57};
\pill{1712}{319.5}{1761}{336}{chikou}{white}{88,293}
\pill{1712}{336.5}{1761}{353}{purp}{white}{87,891}
\pill{1712}{353.5}{1761}{370}{ema}{black}{87,891}
\pill{1712}{370.5}{1761}{387}{up}{white}{84,867}
\pill{1712}{458}{1738}{475}{barup}{white}{58}
\pill{1712}{486}{1761}{503}{tenkan}{white}{−1,715}
\pill{1712}{503}{1761}{520}{sigc}{white}{−1,773}
\pill{1712}{668}{1755}{685}{rsiline}{white}{44.85}
\pill{1712}{685}{1755}{702}{rsima}{black}{43.58}

% Z and A buttons
\fill[gridc] (36.7pt,-771pt) circle (9.5pt);
\node[inner sep=0,text=inkc!70,font=\px] at (36.7pt,-771pt) {Z};
\fill[gridc] (1744.3pt,-771.5pt) circle (9.5pt);
\node[inner sep=0,text=inkc!70,font=\px] at (1744.3pt,-771.5pt) {A};

% logo
\fill[inkc] (12pt,-807pt) -- (27pt,-807pt) -- (27pt,-823pt) -- (19.5pt,-823pt) -- (19.5pt,-813pt) -- (12pt,-813pt) -- cycle;
\fill[inkc] (31.5pt,-810pt) circle (3pt);
\fill[inkc] (36.5pt,-807pt) -- (42.5pt,-807pt) -- (36pt,-823pt) -- (29pt,-823pt) -- cycle;
\node[anchor=base west,inner sep=0,text=inkc,font=\logofont\bfseries\fontsize{18.6}{20}\selectfont] at (50pt,-821.8pt) {TradingView};
\end{tikzpicture}
\end{document}
